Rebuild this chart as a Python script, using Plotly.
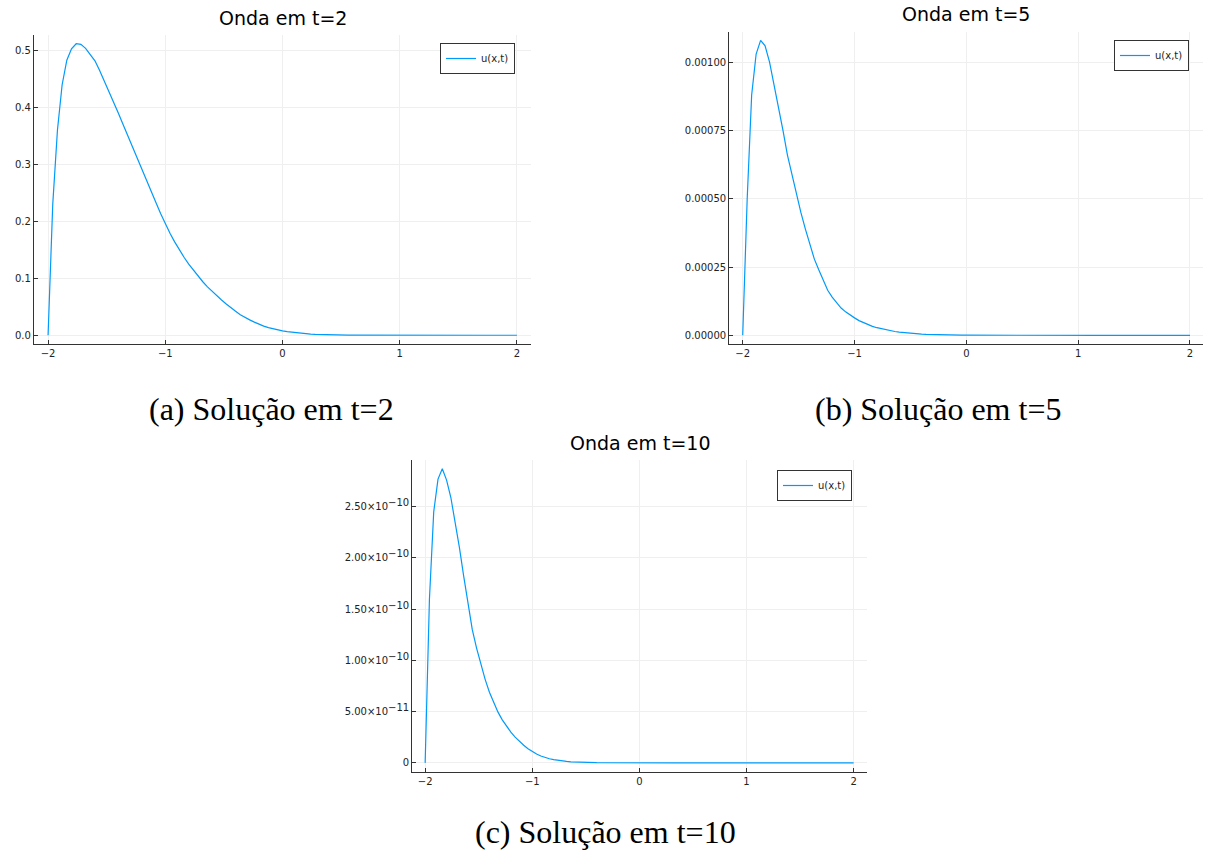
import numpy as np
import plotly.graph_objects as go

# Sample grid (dx = 0.04 on [-2, 2])
x = np.round(np.linspace(-2.0, 2.0, 101), 2)

# u(x, t) at t = 2
u_t2 = [
    0.000, 0.230, 0.360, 0.440, 0.483, 0.503, 0.512, 0.511, 0.504, 0.494,
    0.482, 0.465, 0.447, 0.428, 0.409, 0.390, 0.370, 0.350, 0.330, 0.310,
    0.290, 0.271, 0.252, 0.233, 0.214, 0.196, 0.179, 0.164, 0.150, 0.137,
    0.125, 0.114, 0.103, 0.094, 0.085, 0.077, 0.069, 0.062, 0.055, 0.048,
    0.042, 0.036, 0.031, 0.027, 0.023, 0.019, 0.016, 0.0135, 0.0113, 0.0093,
    0.0076, 0.0063, 0.0052, 0.0042, 0.0034, 0.0027, 0.0021, 0.0017, 0.0013, 0.0010,
    0.0008, 0.0006, 0.00045, 0.00034, 0.00025, 0.00018, 0.00013, 0.00009, 0.00006, 0.00004,
    0.00003, 0.00002, 0.00001, 0.0, 0.0, 0.0, 0.0, 0.0, 0.0, 0.0,
    0.0, 0.0, 0.0, 0.0, 0.0, 0.0, 0.0, 0.0, 0.0, 0.0,
    0.0, 0.0, 0.0, 0.0, 0.0, 0.0, 0.0, 0.0, 0.0, 0.0,
    0.0,
]

# u(x, t) at t = 5
u_t5 = [
    0.0, 0.00050, 0.00088, 0.00103, 0.00108, 0.00106, 0.00100, 0.00092, 0.00083, 0.00075,
    0.00066, 0.00059, 0.00051, 0.00045, 0.00039, 0.00033, 0.00028, 0.00024, 0.00020, 0.000165,
    0.000140, 0.000118, 0.000100, 0.000086, 0.000074, 0.000064, 0.000054, 0.000046, 0.000039, 0.000033,
    0.000028, 0.000024, 0.000020, 0.000017, 0.000014, 0.000012, 0.0000100, 0.0000083, 0.0000069, 0.0000057,
    0.0000047, 0.0000038, 0.0000031, 0.0000025, 0.0000020, 0.0000016, 0.0000013, 0.0000010, 0.0000008, 0.0000006,
    0.0000005, 0.0000004, 0.0000003, 0.0000002, 0.0000002, 0.0000001, 0.0, 0.0, 0.0, 0.0,
    0.0, 0.0, 0.0, 0.0, 0.0, 0.0, 0.0, 0.0, 0.0, 0.0,
    0.0, 0.0, 0.0, 0.0, 0.0, 0.0, 0.0, 0.0, 0.0, 0.0,
    0.0, 0.0, 0.0, 0.0, 0.0, 0.0, 0.0, 0.0, 0.0, 0.0,
    0.0, 0.0, 0.0, 0.0, 0.0, 0.0, 0.0, 0.0, 0.0, 0.0,
    0.0,
]

# u(x, t) at t = 10
u_t10 = [
    0.0, 1.60e-10, 2.45e-10, 2.77e-10, 2.87e-10, 2.76e-10, 2.59e-10, 2.36e-10, 2.10e-10, 1.82e-10,
    1.56e-10, 1.30e-10, 1.12e-10, 9.6e-11, 8.15e-11, 6.9e-11, 5.85e-11, 4.95e-11, 4.2e-11, 3.55e-11,
    3.0e-11, 2.52e-11, 2.1e-11, 1.72e-11, 1.39e-11, 1.1e-11, 8.6e-12, 6.7e-12, 5.2e-12, 4.0e-12,
    3.1e-12, 2.4e-12, 1.8e-12, 1.4e-12, 1.05e-12, 8e-13, 6e-13, 4.5e-13, 3.4e-13, 2.5e-13,
    1.9e-13, 1.4e-13, 1e-13, 7e-14, 5e-14, 3e-14, 2e-14, 1e-14, 0.0, 0.0,
    0.0, 0.0, 0.0, 0.0, 0.0, 0.0, 0.0, 0.0, 0.0, 0.0,
    0.0, 0.0, 0.0, 0.0, 0.0, 0.0, 0.0, 0.0, 0.0, 0.0,
    0.0, 0.0, 0.0, 0.0, 0.0, 0.0, 0.0, 0.0, 0.0, 0.0,
    0.0, 0.0, 0.0, 0.0, 0.0, 0.0, 0.0, 0.0, 0.0, 0.0,
    0.0, 0.0, 0.0, 0.0, 0.0, 0.0, 0.0, 0.0, 0.0, 0.0,
    0.0,
]


def sci(mant, exp):
    """Tick text like 2.50×10⁻¹⁰ with a readable exponent."""
    return f"{mant}\u00d710<sup><span style='font-size:10px'>\u2212{exp}</span></sup>"


x_ticks = [-2, -1, 0, 1, 2]
x_ticktext = ["\u22122", "\u22121", "0", "1", "2"]

y_ticks_t2 = [0.0, 0.1, 0.2, 0.3, 0.4, 0.5]
y_ticktext_t2 = ["0.0", "0.1", "0.2", "0.3", "0.4", "0.5"]
y_ticks_t5 = [0.0, 0.00025, 0.00050, 0.00075, 0.00100]
y_ticktext_t5 = ["0.00000", "0.00025", "0.00050", "0.00075", "0.00100"]
y_ticks_t10 = [0.0, 5e-11, 1e-10, 1.5e-10, 2e-10, 2.5e-10]
y_ticktext_t10 = ["0", sci("5.00", 11), sci("1.00", 10), sci("1.50", 10),
                  sci("2.00", 10), sci("2.50", 10)]

titles = ["Onda em t=2", "Onda em t=5", "Onda em t=10"]
captions = ["(a) Solução em t=2", "(b) Solução em t=5", "(c) Solução em t=10"]
legend_label = "u(x,t)"

W, H = 1208, 852
LINE = "#009AFA"
SANS = "DejaVu Sans"
SERIF = "Liberation Serif"

# plot-area boxes in pixels: (left, right, top, bottom)
boxes = [(34, 531, 35, 344), (729.3, 1203.4, 31.5, 344.2), (412.3, 866.5, 460, 771.7)]
title_pos = [(283, 18), (966, 14), (640, 443)]
caption_pos = [(271, 409), (938, 409), (605, 832)]
legend_pos = [(515, 43), (1189, 40), (852, 470)]

series = [u_t2, u_t5, u_t10]
yticks = [(y_ticks_t2, y_ticktext_t2), (y_ticks_t5, y_ticktext_t5), (y_ticks_t10, y_ticktext_t10)]

fig = go.Figure()
layout = dict(
    width=W, height=H, margin=dict(l=0, r=0, t=0, b=0),
    paper_bgcolor="white", plot_bgcolor="white",
    font=dict(family=SANS, color="#222"),
    showlegend=True,
    annotations=[],
)

for i, (ys, (tv, tt)) in enumerate(zip(series, yticks)):
    sfx = "" if i == 0 else str(i + 1)
    leg = "legend" + sfx
    fig.add_trace(go.Scatter(
        x=x, y=ys, mode="lines", name=legend_label, showlegend=True,
        line=dict(color=LINE, width=1.2),
        xaxis="x" + sfx, yaxis="y" + sfx, legend=leg,
    ))
    l, r, t, b = boxes[i]
    lo, hi = min(ys), max(ys)
    pad = 0.03 * (hi - lo)
    common = dict(
        showline=True, linecolor="#333", linewidth=1.2, mirror=False,
        ticks="inside", ticklen=4, tickcolor="#333", tickwidth=1,
        showgrid=True, gridcolor="#efefef", gridwidth=1, zeroline=False,
        tickfont=dict(family=SANS, size=10, color="#222"),
    )
    layout["xaxis" + sfx] = dict(
        domain=[l / W, r / W], anchor="y" + sfx, range=[-2.12, 2.12],
        tickvals=x_ticks, ticktext=x_ticktext, **common,
    )
    layout["yaxis" + sfx] = dict(
        domain=[1 - b / H, 1 - t / H], anchor="x" + sfx, range=[lo - pad, hi + pad],
        tickvals=tv, ticktext=tt, **common,
    )
    lx, ly = legend_pos[i]
    layout[leg] = dict(
        x=lx / W, y=1 - ly / H, xanchor="right", yanchor="top",
        xref="paper", yref="paper",
        bgcolor="white", bordercolor="#333", borderwidth=1,
        font=dict(family=SANS, size=10, color="#222"),
    )
    tx, ty = title_pos[i]
    layout["annotations"].append(dict(
        text=titles[i], x=tx / W, y=1 - ty / H, xref="paper", yref="paper",
        xanchor="center", yanchor="middle", showarrow=False,
        font=dict(family=SANS, size=19, color="black"),
    ))
    cx, cy = caption_pos[i]
    layout["annotations"].append(dict(
        text=captions[i], x=cx / W, y=1 - cy / H, xref="paper", yref="paper",
        xanchor="center", yanchor="middle", showarrow=False,
        font=dict(family=SERIF, size=32, color="black"),
    ))

fig.update_layout(**layout)
fig.write_html("out.html")
